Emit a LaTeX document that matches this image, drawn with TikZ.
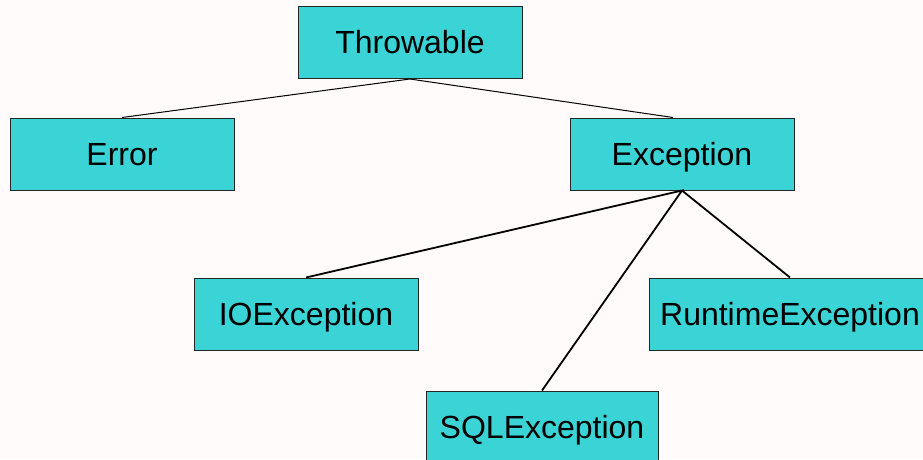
\documentclass[tikz,border=0pt]{standalone}
\usepackage{fontspec}
\setmainfont{Liberation Sans}
\definecolor{boxfill}{RGB}{58,212,214}
\definecolor{paper}{RGB}{255,251,250}
\begin{document}
\begin{tikzpicture}[x=1pt, y=-1pt,
  every node/.style={font=\fontsize{32}{38}\selectfont},
  cls/.style={draw=black!85, line width=1pt, fill=boxfill, inner sep=0pt,
    text height=22.9pt, text depth=0pt,
    minimum width=224pt, minimum height=72pt}]
  \useasboundingbox[fill=paper] (0,0) rectangle (923,459);
  \node[cls] (throwable) at (410,42.5) {Throwable};
  \node[cls] (error) at (122,154) {Error};
  \node[cls] (exception) at (682,154) {Exception};
  \node[cls] (ioexc) at (306,314) {IOException};
  \node[cls, minimum width=282pt] (runexc) at (790,314) {RuntimeException};
  \node[cls, minimum width=232pt] (sqlexc) at (542,427) {SQLException};
  \draw[line width=1pt] (error.north) -- (throwable.south)
    -- ([xshift=-9pt]exception.north);
  \draw[line width=1.8pt] (ioexc.north) -- (exception.south) -- (sqlexc.north)
    (exception.south) -- (runexc.north);
\end{tikzpicture}
\end{document}
